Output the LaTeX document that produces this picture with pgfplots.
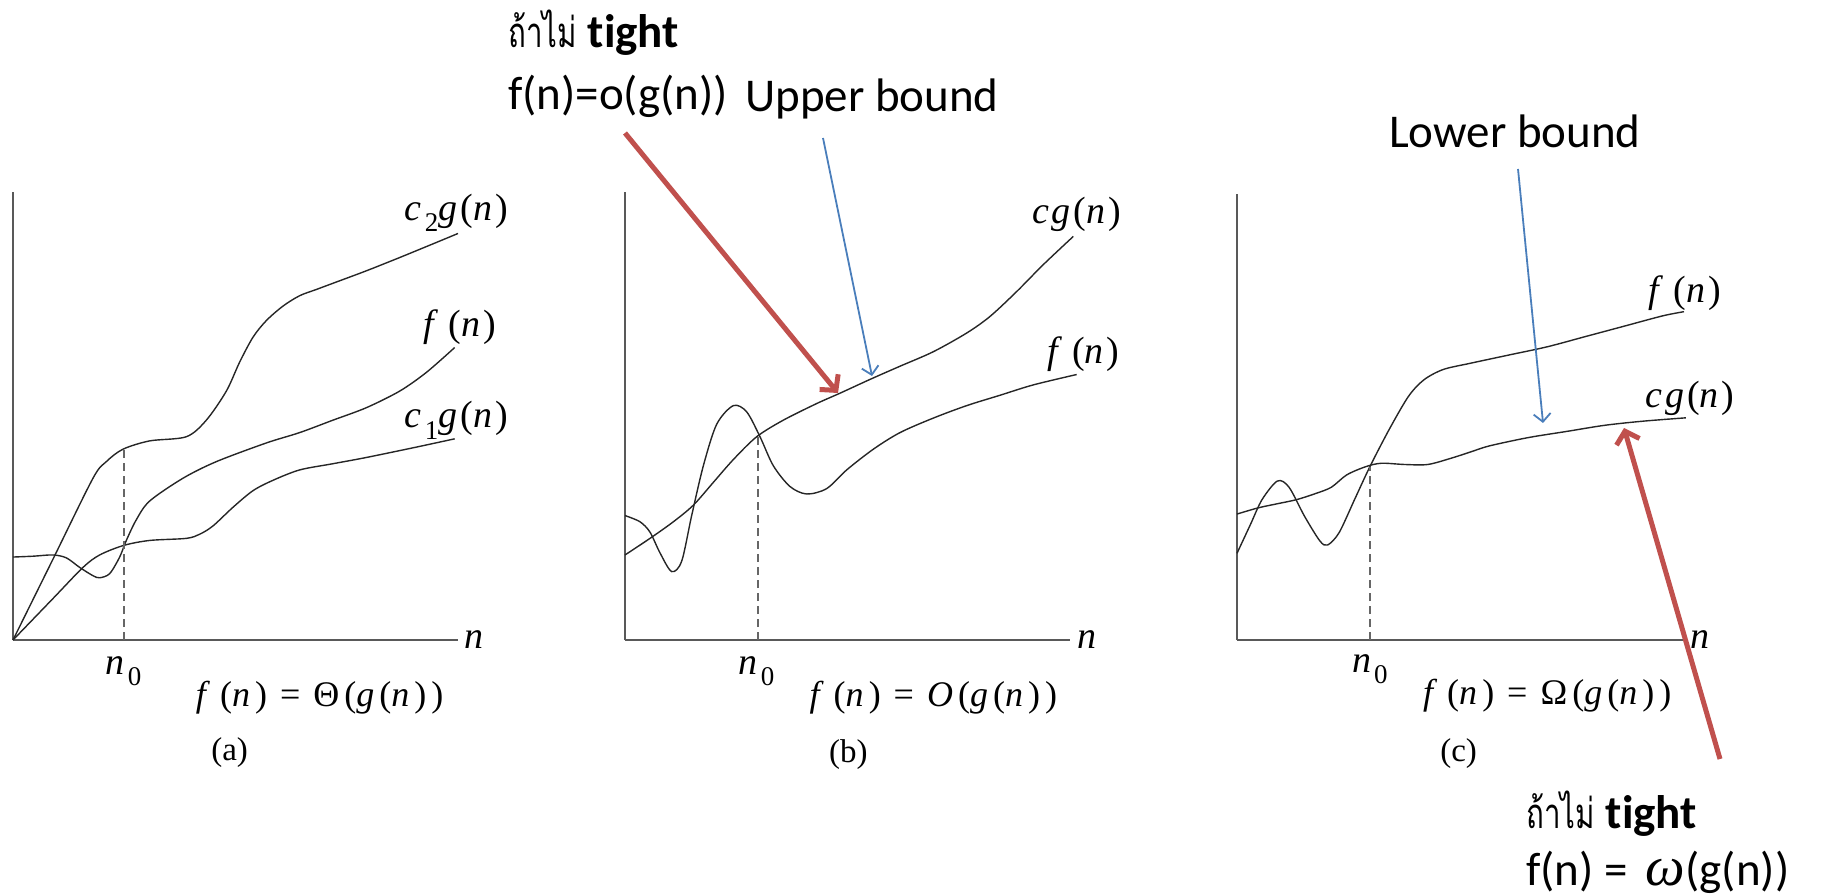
\documentclass[border=0pt]{standalone}
\usepackage{fontspec}
\usepackage{graphicx}
\usepackage{pgfplots}
\pgfplotsset{compat=1.18}
\usetikzlibrary{arrows.meta}
\setmainfont{Carlito}[Ligatures={NoCommon,NoRare,NoContextual}]
\newfontfamily\thaifont[Script=Thai]{Loma}
\newfontfamily\tms[LetterSpace=8]{Liberation Serif}
\newfontfamily\tmsw[LetterSpace=14]{Liberation Serif}
\newfontfamily\tmsplain{Liberation Serif}
\definecolor{pptred}{RGB}{192,80,77}
\definecolor{pptblue}{RGB}{74,126,187}
\newcommand{\lab}{\tms\fontsize{38}{44}\selectfont}
\newcommand{\flab}{\tmsw\fontsize{36}{42}\selectfont}
\newcommand{\sub}[1]{\raisebox{-0.3em}{\fontsize{27}{30}\selectfont #1}}
\newcommand{\iv}[1]{\textit{#1}}
\newcommand{\thai}{\scalebox{0.95}[1.35]{\thaifont\fontsize{31}{40}\selectfont ถ้าไม่}}
\begin{document}
\begin{tikzpicture}
\path[use as bounding box] (0pt,0pt) rectangle (1823pt,895pt);
\pgfplotsset{
  panel/.style={anchor=south west, scale only axis, axis lines=left,
    axis line style={-, line width=1.8pt, draw=black!65}, ticks=none,
    clip=false, ymin=0, ymax=1080},
  crv/.style={smooth, mark=none, line width=1.4pt, draw=black!85},
  dsh/.style={mark=none, line width=1.9pt, draw=black!60, dash pattern=on 8pt off 5pt}
}
% ---------------- panel (a)
\begin{axis}[panel, at={(13pt,255pt)}, width=445pt, height=448pt, xmin=40, xmax=1375]
\addplot[crv] coordinates {(40,0) (160,195) (280,390) (320,430) (370,460) (450,480) (560,490) (620,530) (680,600) (720,670) (760,730) (800,770) (850,805) (900,830) (950,845) (1000,860) (1100,890) (1200,922) (1300,955) (1375,980)};
\addplot[crv] coordinates {(40,200) (100,202) (160,205) (200,198) (240,175) (280,155) (300,150) (330,160) (360,200) (380,240) (410,290) (450,335) (550,390) (650,430) (800,475) (900,500) (1000,530) (1100,560) (1200,600) (1280,645) (1365,705)};
\addplot[crv] coordinates {(40,0) (160,100) (250,175) (300,205) (372,228) (450,240) (560,245) (600,255) (640,275) (700,320) (760,360) (820,385) (900,410) (1000,425) (1100,440) (1250,465) (1365,485)};
\addplot[dsh] coordinates {(372,0) (372,460)};
\node[font=\lab] at (axis cs:1370,1030) {\iv{c}\sub{2}\iv{g}(\iv{n})};
\node[font=\lab] at (axis cs:1380,755) {\iv{f}\kern7pt(\iv{n})};
\node[font=\lab] at (axis cs:1370,530) {\iv{c}\sub{1}\iv{g}(\iv{n})};
\node[font=\lab] at (axis cs:1428,0) {\iv{n}};
\node[font=\lab] at (axis cs:372,-75) {\iv{n}\sub{0}};
\node[font=\flab] at (axis cs:960,-140) {\iv{f}\kern5pt(\iv{n})\kern13pt=\kern13pt Θ(\iv{g}(\iv{n}))};
\node[font=\tmsplain\fontsize{33}{38}\selectfont] at (axis cs:690,-272) {(a)};
\end{axis}
% ---------------- panel (b)
\begin{axis}[panel, at={(625pt,255pt)}, width=445pt, height=448pt, xmin=75, xmax=1410]
\addplot[crv] coordinates {(75,205) (150,245) (220,285) (280,325) (340,380) (400,435) (470,490) (550,530) (650,570) (720,595) (815,630) (900,660) (1000,695) (1100,740) (1170,780) (1250,840) (1330,905) (1420,973)};
\addplot[crv] coordinates {(75,300) (120,285) (150,260) (180,210) (215,165) (245,190) (275,300) (310,420) (350,520) (400,565) (440,550) (480,490) (520,420) (570,370) (620,352) (680,365) (740,410) (820,460) (900,500) (1000,535) (1100,565) (1200,590) (1300,615) (1430,640)};
\addplot[dsh] coordinates {(475,0) (475,490)};
\node[font=\lab] at (axis cs:1430,1025) {\iv{cg}(\iv{n})};
\node[font=\lab] at (axis cs:1450,690) {\iv{f}\kern7pt(\iv{n})};
\node[font=\lab] at (axis cs:1465,0) {\iv{n}};
\node[font=\lab] at (axis cs:470,-75) {\iv{n}\sub{0}};
\node[font=\flab] at (axis cs:1000,-140) {\iv{f}\kern5pt(\iv{n})\kern13pt=\kern13pt\iv{O}(\iv{g}(\iv{n}))};
\node[font=\tmsplain\fontsize{33}{38}\selectfont] at (axis cs:745,-275) {(b)};
\end{axis}
% ---------------- panel (c)
\begin{axis}[panel, at={(1237pt,255pt)}, width=447pt, height=446pt, xmin=45, xmax=1205]
\addplot[crv] coordinates {(45,210) (80,280) (110,340) (150,385) (180,370) (220,300) (260,240) (280,230) (310,260) (350,340) (390,420) (440,510) (490,590) (530,630) (580,655) (650,670) (750,690) (850,710) (950,735) (1050,760) (1150,785) (1205,795)};
\addplot[crv] coordinates {(45,305) (100,320) (150,330) (200,340) (250,355) (290,370) (330,400) (380,420) (420,428) (480,425) (540,425) (600,440) (650,455) (700,470) (800,490) (900,505) (1000,520) (1100,530) (1210,538)};
\addplot[dsh] coordinates {(390,0) (390,420)};
\node[font=\lab] at (axis cs:1207,840) {\iv{f}\kern7pt(\iv{n})};
\node[font=\lab] at (axis cs:1220,585) {\iv{cg}(\iv{n})};
\node[font=\lab] at (axis cs:1250,0) {\iv{n}};
\node[font=\lab] at (axis cs:390,-70) {\iv{n}\sub{0}};
\node[font=\flab] at (axis cs:850,-135) {\iv{f}\kern5pt(\iv{n})\kern13pt=\kern13pt Ω(\iv{g}(\iv{n}))};
\node[font=\tmsplain\fontsize{33}{38}\selectfont] at (axis cs:620,-275) {(c)};
\end{axis}
% ---------------- annotations
\draw[pptred, line width=5pt, -{Straight Barb[length=11pt,width=24pt]}] (625pt,762pt) -- (838pt,502pt);
\draw[pptblue, line width=1.8pt, -{Straight Barb[length=8pt,width=17pt]}] (823pt,757pt) -- (872pt,519pt);
\draw[pptblue, line width=1.8pt, -{Straight Barb[length=8pt,width=17pt]}] (1518pt,726pt) -- (1543pt,472pt);
\draw[pptred, line width=5pt, -{Straight Barb[length=11pt,width=24pt]}] (1720pt,136pt) -- (1624pt,467pt);
\node[anchor=west, inner sep=0pt, font=\fontsize{47}{56}\selectfont] at (508pt,862pt) {\thai\kern11pt\textbf{tight}};
\node[anchor=west, inner sep=0pt, font=\fontsize{47}{56}\selectfont] at (508pt,799pt) {f(n)=o(g(n))};
\node[anchor=west, inner sep=0pt, font=\fontsize{47}{56}\selectfont] at (745pt,796pt) {Upper bound};
\node[anchor=west, inner sep=0pt, font=\fontsize{47}{56}\selectfont] at (1389pt,764pt) {Lower bound};
\node[anchor=west, inner sep=0pt, font=\fontsize{47}{56}\selectfont] at (1526pt,81pt) {\thai\kern11pt\textbf{tight}};
\node[anchor=west, inner sep=0pt, font=\fontsize{47}{56}\selectfont] at (1526pt,23pt) {f(n) =\kern18pt{\tmsplain\itshape\fontsize{56}{60}\selectfont ω}(g(n))};
\end{tikzpicture}
\end{document}
